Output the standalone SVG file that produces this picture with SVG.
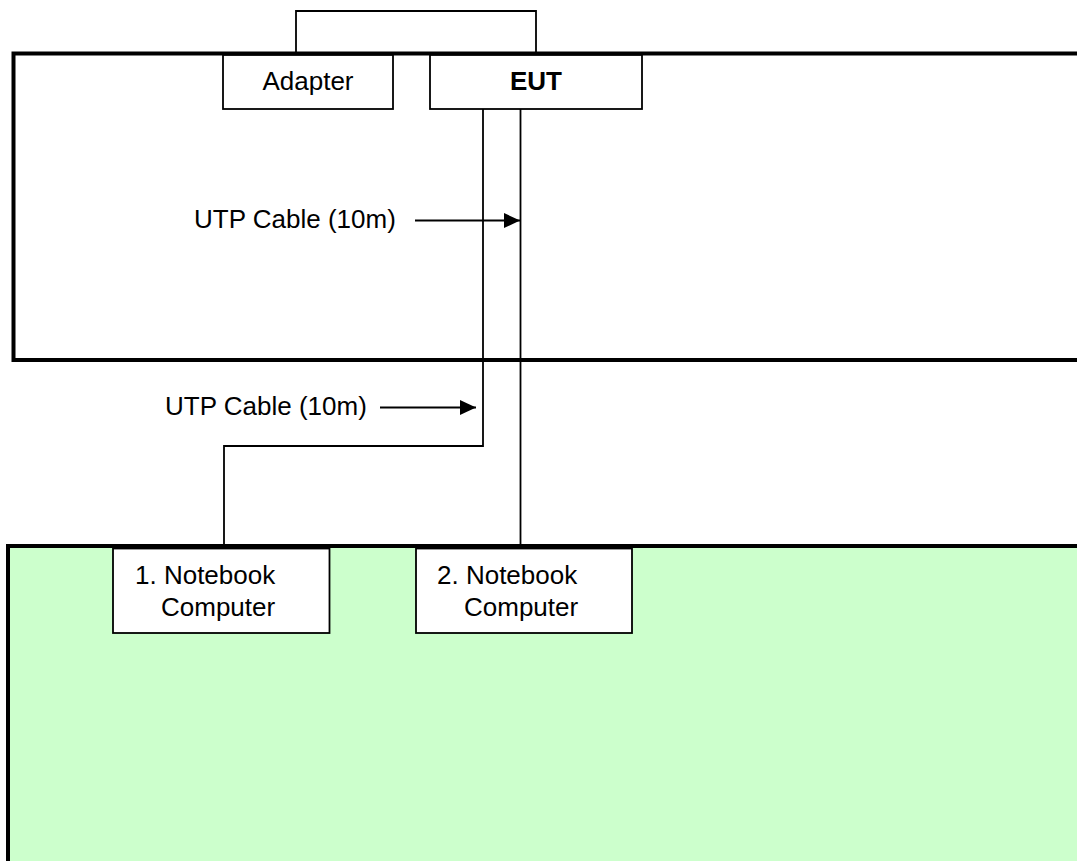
<svg xmlns="http://www.w3.org/2000/svg" width="1077" height="861" viewBox="0 0 1077 861">
  <style>
    .room { fill: #ffffff; stroke: #000000; stroke-width: 4; }
    .table { fill: #ccffcc; stroke: #000000; stroke-width: 4; }
    .box { fill: #ffffff; stroke: #000000; stroke-width: 1.8; }
    .wire { fill: none; stroke: #000000; stroke-width: 1.8; }
    .lbl { font-family: "Liberation Sans", Arial, sans-serif; font-size: 26px; fill: #000000; }
    .bold { font-weight: bold; }
  </style>
  <defs>
    <marker id="headBig" viewBox="0 0 16 16" refX="16" refY="8" markerWidth="16" markerHeight="15" markerUnits="userSpaceOnUse" orient="auto" preserveAspectRatio="none">
      <path d="M0,0 L16,8 L0,16 Z" fill="#000000"/>
    </marker>
  </defs>

  <rect width="1077" height="861" fill="#ffffff"/>

  <!-- rooms / tables -->
  <rect id="upper-area" class="room" x="13.5" y="53.5" width="1100" height="306.5"/>
  <rect id="lower-table" class="table" x="8" y="546" width="1100" height="340"/>

  <!-- connectors -->
  <g id="connectors">
    <!-- adapter to EUT power loop -->
    <polyline class="wire" points="296,53 296,11 536,11 536,53"/>
    <!-- UTP cable to notebook 1 -->
    <polyline class="wire" points="483,109 483,446 224,446 224,548"/>
    <!-- UTP cable to notebook 2 -->
    <polyline class="wire" points="520.5,109 520.5,548"/>
    <!-- label pointers -->
    <line class="wire" x1="415" y1="220.5" x2="520" y2="220.5" marker-end="url(#headBig)"/>
    <line class="wire" x1="380" y1="407.5" x2="476" y2="407.5" marker-end="url(#headBig)"/>
  </g>

  <!-- nodes -->
  <g id="adapter">
    <rect class="box" x="223" y="55" width="170" height="54"/>
    <text class="lbl" x="308" y="90" text-anchor="middle">Adapter</text>
  </g>
  <g id="eut">
    <rect class="box" x="430" y="55" width="212" height="54"/>
    <text class="lbl bold" x="536" y="90" text-anchor="middle">EUT</text>
  </g>
  <g id="notebook-1">
    <rect class="box" x="113" y="548.5" width="216.5" height="84.5"/>
    <text class="lbl" x="135" y="584">1. Notebook</text>
    <text class="lbl" x="161" y="616">Computer</text>
  </g>
  <g id="notebook-2">
    <rect class="box" x="416" y="548.5" width="216" height="84.5"/>
    <text class="lbl" x="437" y="584">2. Notebook</text>
    <text class="lbl" x="464" y="616">Computer</text>
  </g>

  <!-- cable labels -->
  <g id="cable-labels">
    <text class="lbl" x="194" y="228">UTP Cable (10m)</text>
    <text class="lbl" x="165" y="415">UTP Cable (10m)</text>
  </g>
</svg>
